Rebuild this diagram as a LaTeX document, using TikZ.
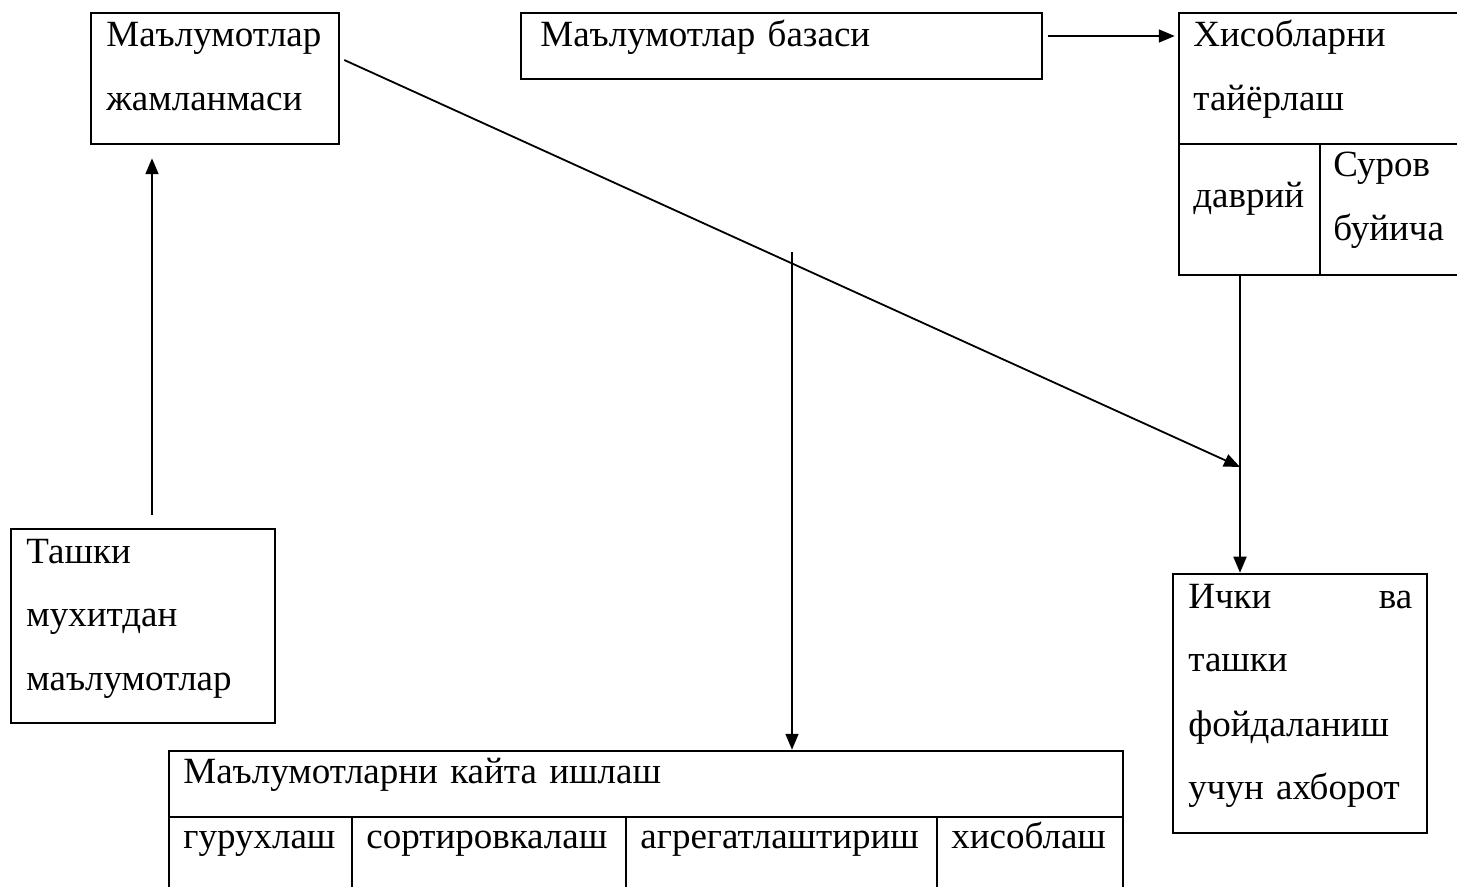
\documentclass[tikz,border=0pt]{standalone}
\usepackage{fontspec}
\setmainfont{Liberation Serif}
\usetikzlibrary{arrows.meta,fit}
\begin{document}
\begin{tikzpicture}[x=0.5pt,y=-0.5pt,
  box/.style={draw, line width=1.25pt, inner sep=0pt},
  ln/.style={line width=1.1pt},
  arr/.style={line width=0.9pt, -{Triangle[length=8pt,width=6.5pt]}},
  txt/.style={anchor=base west, inner sep=0pt, align=left, text width=300pt,
    font=\fontsize{18.5pt}{32pt}\selectfont}]
\useasboundingbox (0,0) rectangle (1457,887);
% boxes
\node[box, fit={(91,13) (339,144)}] (A) {};
\node[box, fit={(521,13) (1042,79)}] (B) {};
\node[box, fit={(1179,13) (1470,275)}] (C) {};
\node[box, fit={(11,529) (275,723)}] (D) {};
\node[box, fit={(1173,574) (1427,833)}] (E) {};
\node[box, fit={(169,751) (1123,900)}] (F) {};
% inner dividers
\draw[ln] (1179,144) -- (1470,144);
\draw[ln] (1320,144) -- (1320,275);
\draw[ln] (169,817) -- (1123,817);
\draw[ln] (352,817) -- (352,900);
\draw[ln] (626,817) -- (626,900);
\draw[ln] (937,817) -- (937,900);
% texts
\node[txt] (tA) at (106,47) {Маълумотлар\\жамланмаси};
\node[txt] (tB) at (540,47) {Маълумотлар базаси};
\node[txt] (tC) at (1193,47) {Хисобларни\\тайёрлаш};
\node[txt] (tC1) at (1193,208) {даврий};
\node[txt] (tC2) at (1333,177) {Суров\\буйича};
\node[txt] (tD) at (26,563) {Ташки\\мухитдан\\маълумотлар};
\node[txt, text width=112pt] (tE) at (1188,608) {Ички\hfill ва\\ташки\\фойдаланиш\\учун ахборот};
\node[txt] (tF) at (183,783) {Маълумотларни кайта ишлаш};
\node[txt] (tF1) at (183,848) {гурухлаш};
\node[txt] (tF2) at (366,848) {сортировкалаш};
\node[txt] (tF3) at (640,848) {агрегатлаштириш};
\node[txt] (tF4) at (951,848) {хисоблаш};
% connectors
\coordinate (kD) at (152,0);
\coordinate (kB) at (0,36);
\coordinate (kC) at (1240,0);
\coordinate (mE) at (1240,467);
\coordinate (sF) at (792,252);
\draw[arr, shorten <=6.5pt, shorten >=6.5pt] (D.north -| kD) -- (A.south -| kD);
\draw[arr, shorten <=2.5pt, shorten >=1.5pt] (B.east |- kB) -- (C.west |- kB);
\draw[arr] ([shift={(4,-18.5)}]A.east) -- (mE);
\draw[arr] (C.south -| kC) -- (E.north -| kC);
\draw[arr] (sF) -- (F.north -| sF);
\end{tikzpicture}
\end{document}
